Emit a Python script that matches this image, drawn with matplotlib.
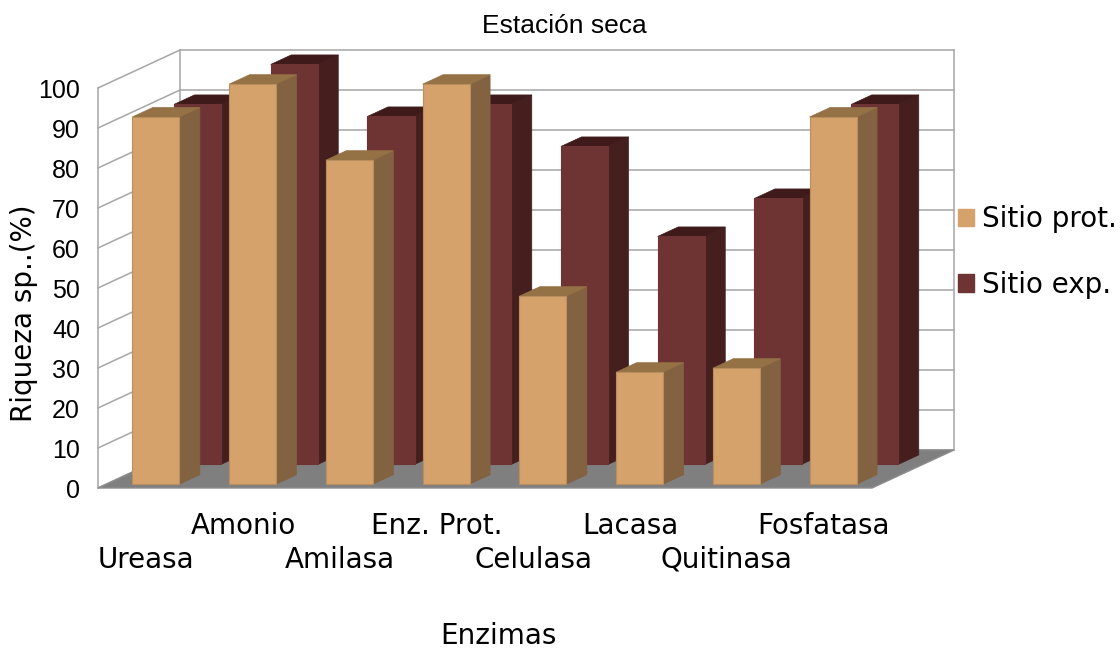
import matplotlib
matplotlib.use("Agg")
import matplotlib.pyplot as plt
from matplotlib.patches import Polygon, Patch
import numpy as np

enzimas = ["Ureasa", "Amonio", "Amilasa", "Enz. Prot.", "Celulasa", "Lacasa", "Quitinasa", "Fosfatasa"]
sitio_prot = [91.8, 100, 81, 100, 47, 28, 29, 91.8]
sitio_exp = [90, 100, 87, 90, 79.5, 57, 66.5, 90]
yticks = list(range(0, 101, 10))

# obliqueness of the fake 3D box: one unit of depth in data units
depth_x = 0.8475
depth_y = 9.5

bar_w = 0.486
bar_depth = 0.25
prot_depth = 0.1
exp_depth = 0.62

prot_cols = ("#D6A26B", "#826240", "#957146", "#B98F60")
exp_cols = ("#6E3434", "#451F1E", "#3F1A1A", "#6E3434")
wall_col = "#A6A6A6"


def proj(x, y, d):
    return (x + d * depth_x, y + d * depth_y)


def draw_bar(ax, x, val, d, cols, z):
    d2 = d + bar_depth
    front = [proj(x, 0, d), proj(x + bar_w, 0, d), proj(x + bar_w, val, d), proj(x, val, d)]
    side = [proj(x + bar_w, 0, d), proj(x + bar_w, 0, d2), proj(x + bar_w, val, d2), proj(x + bar_w, val, d)]
    top = [proj(x, val, d), proj(x + bar_w, val, d), proj(x + bar_w, val, d2), proj(x, val, d2)]
    ax.add_patch(Polygon(side, fc=cols[1], ec=cols[1], lw=0.5, zorder=z, clip_on=False))
    ax.add_patch(Polygon(top, fc=cols[2], ec=cols[2], lw=0.5, zorder=z, clip_on=False))
    ax.add_patch(Polygon(front, fc=cols[0], ec=cols[3], lw=0.8, zorder=z + 0.1, clip_on=False))


fig = plt.figure(figsize=(11.2, 6.5), dpi=100)
ax = fig.add_axes([98 / 1120, 162 / 650, 774 / 1120, 400 / 650])
ax.set_xlim(0, len(enzimas))
ax.set_ylim(0, 100)
for s in ax.spines.values():
    s.set_visible(False)

# back wall and left wall grid
for t in yticks:
    bx, by = proj(0, t, 1)
    ex, ey = proj(len(enzimas), t, 1)
    ax.plot([0, bx], [t, by], color=wall_col, lw=1.1, clip_on=False, zorder=1)
    ax.plot([bx, ex], [by, ey], color=wall_col, lw=1.1, clip_on=False, zorder=1)
x0, y0 = proj(0, 0, 1)
x1, y1 = proj(0, 100, 1)
x2, y2 = proj(len(enzimas), 0, 1)
ax.plot([x0, x1], [y0, y1], color=wall_col, lw=1.1, clip_on=False, zorder=1)
ax.plot([x2, x2], [y0, y1], color=wall_col, lw=1.1, clip_on=False, zorder=1)
ax.plot([0, 0], [0, 100], color=wall_col, lw=1.1, clip_on=False, zorder=1)

# floor
n = len(enzimas)
ax.add_patch(Polygon([proj(0, 0, 0), proj(n, 0, 0), proj(n, 0, 1), proj(0, 0, 1)],
                     fc="#7F7F7F", ec="#8C8C8C", lw=1, clip_on=False, zorder=2))

for i, v in enumerate(sitio_exp):
    draw_bar(ax, i + 0.26, v, exp_depth, exp_cols, 3)
for i, v in enumerate(sitio_prot):
    draw_bar(ax, i + 0.27, v, prot_depth, prot_cols, 4)

ax.set_yticks(yticks)
ax.set_yticklabels([str(t) for t in yticks], family="Liberation Sans", fontsize=18)
ax.tick_params(axis="y", length=0, pad=13)

ax.set_xticks(np.arange(n) + 0.5)
ax.set_xticklabels(enzimas, family="DejaVu Sans", fontsize=20)
ax.tick_params(axis="x", length=0)
for i, tick in enumerate(ax.xaxis.get_major_ticks()):
    tick.set_pad(17 if i % 2 else 41.5)

ax.set_xlabel("Enzimas", family="DejaVu Sans", fontsize=20)
ax.xaxis.set_label_coords(0.517, -0.335)
ax.set_ylabel("Riqueza sp..(%)", family="DejaVu Sans", fontsize=20)
ax.yaxis.set_label_coords(-0.077, 0.436)

fig.text(564 / 1120, 1 - 26 / 650, "Estación seca", family="Liberation Sans", fontsize=19,
         ha="center", va="center")

handles = [Patch(fc=prot_cols[0], ec=prot_cols[0]), Patch(fc=exp_cols[0], ec=exp_cols[0])]
leg = fig.legend(handles, ["Sitio prot.", "Sitio exp."], loc="center left",
                 bbox_to_anchor=(958 / 1120, 1 - 252 / 650), frameon=False,
                 prop={"family": "DejaVu Sans", "size": 20}, handlelength=0.58, handleheight=0.58,
                 handletextpad=0.29, labelspacing=1.35, borderpad=0, borderaxespad=0)

fig.savefig("out.png", dpi=100)
